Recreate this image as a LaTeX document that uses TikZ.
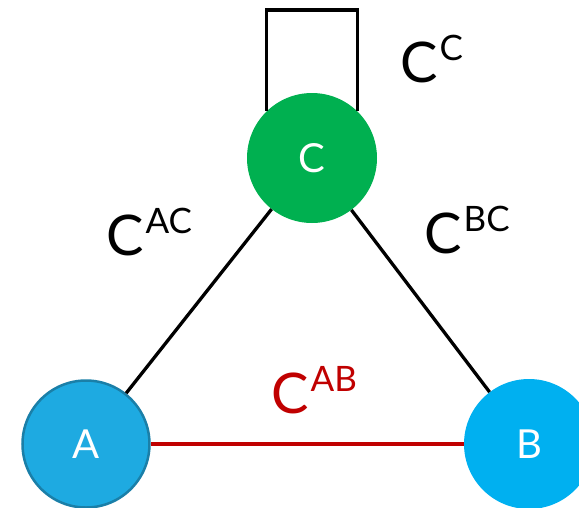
\documentclass[tikz,border=0pt]{standalone}
\usepackage{fontspec}
\setmainfont{Lato}
\definecolor{cgreen}{HTML}{00B050}
\definecolor{ablue}{HTML}{1EAAE1}
\definecolor{aedge}{HTML}{1A7FA8}
\definecolor{bblue}{HTML}{00B0F0}
\definecolor{cred}{HTML}{C00000}
\newcommand{\costlabel}[1]{{\fontsize{56}{56}\selectfont C}\kern2pt\raisebox{22pt}{\fontsize{35}{35}\selectfont #1}}
\begin{document}
\begin{tikzpicture}[x=1pt,y=-1pt,
  vertex/.style={circle,minimum size=130pt,inner sep=0pt,text=white,font=\fontsize{40}{40}\selectfont},
  edge/.style={line width=3.3pt},
  costtext/.style={anchor=base west,inner sep=0pt}]
\useasboundingbox (0,0) rectangle (579,507);
\node[vertex,fill=cgreen] (C) at (312,158) {C};
\node[vertex,fill=ablue,draw=aedge,line width=2.5pt,minimum size=127pt] (A) at (86,444) {A};
\node[vertex,fill=bblue] (B) at (529,444) {B};
\coordinate (looptop) at (312,10);
\draw[edge,line join=miter] (C.134) |- (looptop) -| (C.46);
\draw[edge] (A) -- (C);
\draw[edge] (B) -- (C);
\draw[edge,cred] (A) -- (B);
\node[costtext] (lc) at (400,82) {\costlabel{C}};
\node[costtext] (lac) at (106,255) {\costlabel{AC}};
\node[costtext] (lbc) at (424,253) {\costlabel{BC}};
\node[costtext,text=cred] (lab) at (271,413) {\costlabel{AB}};
\end{tikzpicture}
\end{document}
